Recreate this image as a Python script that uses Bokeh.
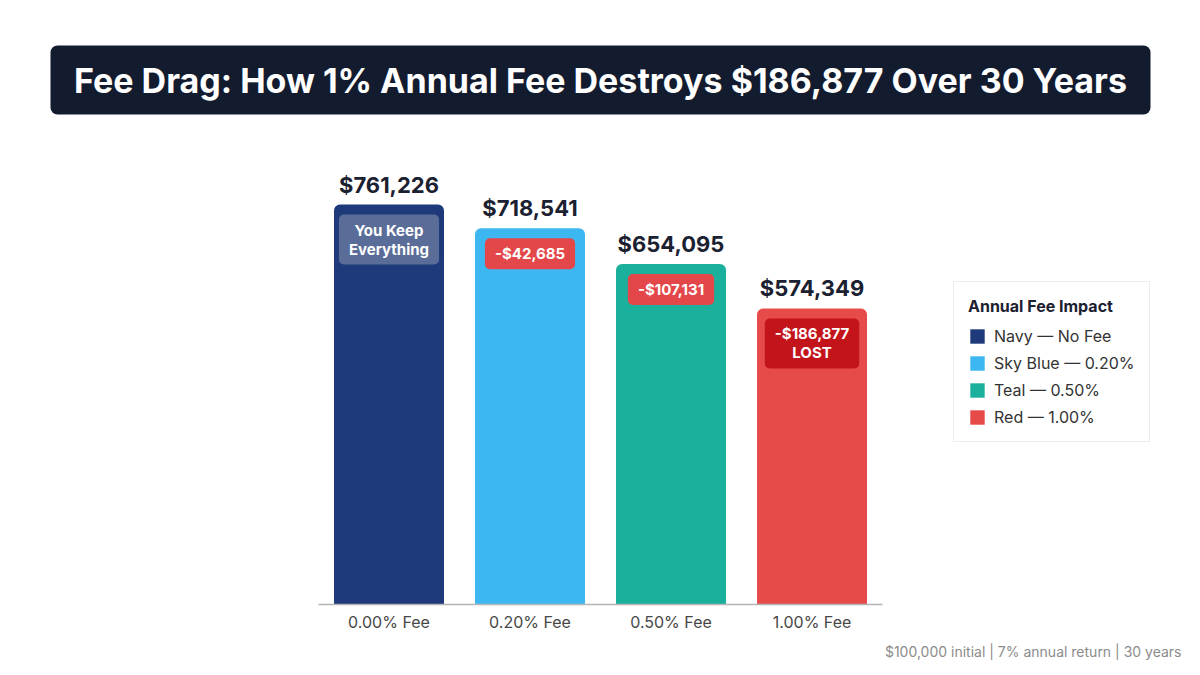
from bokeh.plotting import figure
from bokeh.models import (ColumnDataSource, FactorRange, Range1d, BoxAnnotation,
                          Label, Legend, LegendItem)
from bokeh.core.properties import value
from bokeh.embed import file_html
from bokeh.resources import INLINE

# ---------------- data ----------------
categories = ["0.00% Fee", "0.20% Fee", "0.50% Fee", "1.00% Fee"]
final_values = [761226, 718541, 654095, 574349]
badge_texts = ["You Keep\nEverything", "-$42,685", "-$107,131", "-$186,877\nLOST"]
legend_labels = ["Navy \u2014 No Fee", "Sky Blue \u2014 0.20%", "Teal \u2014 0.50%", "Red \u2014 1.00%"]
bar_colors = ["#1e3a7b", "#3db7f2", "#1bb09c", "#e74b49"]
badge_colors = ["#5a6c98", "#e4474a", "#e4474a", "#c3141b"]
title_text = "Fee Drag: How 1% Annual Fee Destroys $186,877 Over 30 Years"
footnote_text = "$100,000 initial | 7% annual return | 30 years"

# ---------------- layout ----------------
W, H = 1200, 675
BASE = 42000                      # value at the drawn baseline
Y_START, Y_END = -85663, 1128034  # vertical range mapped over the full canvas
FONT = "Inter"


def sy(top_px):
    """convert a top-based pixel position to Bokeh screen units (from bottom)"""
    return H - top_px


p = figure(width=W, height=H,
           x_range=FactorRange(*categories, range_padding=2.255, range_padding_units="absolute"),
           y_range=Range1d(Y_START, Y_END),
           x_axis_location=None, y_axis_location=None,
           toolbar_location=None, output_backend="svg",
           min_border=0, outline_line_color=None,
           background_fill_color="white", border_fill_color="white")
p.xgrid.visible = False
p.ygrid.visible = False

src = ColumnDataSource(dict(
    cat=categories,
    val=final_values,
    base=[BASE] * len(categories),
    color=bar_colors,
    label=["${:,}".format(v) for v in final_values],
    badge=badge_texts,
    badge_color=badge_colors,
))

bars = p.vbar(x="cat", top="val", bottom="base", width=0.78, source=src,
              fill_color="color", line_color=None, border_radius=(6, 6, 0, 0))

# baseline
p.segment(x0=[(categories[0], -0.5)], x1=[(categories[-1], 0.5)],
          y0=[BASE], y1=[BASE], line_color="#b5b5b5", line_width=1.5)

# value labels above bars
p.text(x="cat", y="val", text="label", source=src, y_offset=-20,
       text_align="center", text_baseline="alphabetic",
       text_font=value(FONT), text_font_style="bold", text_font_size="22px",
       text_color="#1b2130")

# badges inside bars
p.text(x="cat", y="val", text="badge", source=src, y_offset=10,
       text_align="center", text_baseline="top", text_line_height=1.0,
       text_font=value(FONT), text_font_style="bold", text_font_size="15px",
       text_color="white",
       background_fill_color="badge_color", padding=(10, 6), border_radius=5)

# category labels
p.text(x="cat", y="base", text="cat", source=src, y_offset=18,
       text_align="center", text_baseline="middle",
       text_font=value(FONT), text_font_size="16px", text_color="#474747")

# title box
p.add_layout(BoxAnnotation(left=50, right=1150, top=sy(45), bottom=sy(114),
                           left_units="screen", right_units="screen",
                           top_units="screen", bottom_units="screen",
                           fill_color="#131b2e", fill_alpha=1.0,
                           line_color=None, border_radius=7))
p.add_layout(Label(x=600, y=sy(80), x_units="screen", y_units="screen",
                   text=title_text, text_align="center", text_baseline="middle",
                   text_font=FONT, text_font_style="bold", text_font_size="34px",
                   text_color="white"))

# footnote
p.add_layout(Label(x=1181, y=sy(651), x_units="screen", y_units="screen",
                   text=footnote_text, text_align="right", text_baseline="middle",
                   text_font=FONT, text_font_size="14px", text_color="#8c8c8c"))

# legend
items = [LegendItem(label=lbl, renderers=[bars], index=i) for i, lbl in enumerate(legend_labels)]
legend = Legend(items=items, location=(953, sy(442)),
                title="Annual Fee Impact", title_text_font=FONT,
                title_text_font_style="bold", title_text_font_size="16px",
                title_text_color="#1b2130", title_standoff=10,
                label_text_font=FONT, label_text_font_size="16px",
                label_text_color="#333333", label_standoff=8, label_height=20,
                glyph_width=18, glyph_height=18, spacing=7, padding=14, margin=0,
                border_line_color="#dcdcdc", border_line_width=1,
                background_fill_color="white", background_fill_alpha=1.0)
p.add_layout(legend, "center")

open("out.html", "w").write(file_html(p, INLINE))
